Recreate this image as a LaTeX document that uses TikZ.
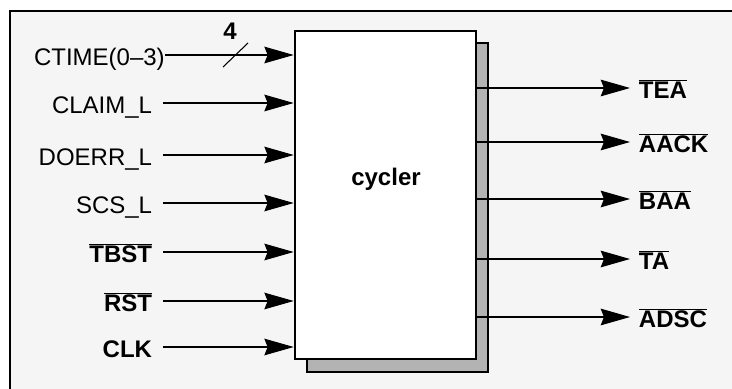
\documentclass[tikz,border=0pt]{standalone}
\usepackage{fontspec}
\setmainfont{Liberation Sans}
\usetikzlibrary{arrows.meta}
\definecolor{paper}{RGB}{245,245,245}
\definecolor{shade}{RGB}{179,179,179}
\newcommand{\pinfont}{\fontsize{18}{21.6}\selectfont}
\newcommand{\barsig}[1]{\ensuremath{\overline{\hbox{#1}}}}
\tikzset{
sig/.style={line width=0.8pt, -{Stealth[length=22pt,width=12.5pt,inset=2.5pt]}},
pinlbl/.style={text height=16pt, text depth=0pt, inner ysep=0pt, inner xsep=8pt},
inpin/.style={pinlbl, anchor=east, font=\pinfont},
inpinb/.style={pinlbl, anchor=east, font=\pinfont\bfseries},
outpin/.style={pinlbl, anchor=west, inner xsep=6.5pt, font=\pinfont\bfseries},
block/.style={draw, line width=2pt, fill=white, minimum width=135.75pt, minimum height=246pt, inner sep=0pt},
shadowbox/.style={draw, line width=2pt, fill=shade}
}
\begin{document}
\begin{tikzpicture}[x=0.75pt, y=-0.75pt]
  \useasboundingbox (0,0) rectangle (732,389);
  \fill[paper] (10,11) rectangle (732,389);
  \draw[line width=1.2pt] (10,389) -- (10,11) -- (732,11);
  \draw[shadowbox] (307,43) rectangle (488,372);
  \node[block] (box) at (385.5,195) {};
  \node[font=\pinfont\bfseries, inner sep=0pt] (name) at (386,179) {cycler};
  \node[inpin, inner xsep=0pt] (ctime) at (165,55) {CTIME(0–3)};
  \node[inpin] (claim) at (163,103) {CLAIM\_L};
  \node[inpin] (doerr) at (163,155) {DOERR\_L};
  \node[inpin] (scs) at (163,203) {SCS\_L};
  \node[inpinb] (tbst) at (163,252) {\barsig{TBST}};
  \node[inpinb] (rst) at (163,301) {\barsig{RST}};
  \node[inpinb] (clk) at (163,347) {CLK};
  \draw[sig] (ctime) -- (ctime -| box.west);
  \draw[sig] (claim) -- (claim -| box.west);
  \draw[sig] (doerr) -- (doerr -| box.west);
  \draw[sig] (scs) -- (scs -| box.west);
  \draw[sig] (tbst) -- (tbst -| box.west);
  \draw[sig] (rst) -- (rst -| box.west);
  \draw[sig] (clk) -- (clk -| box.west);
  \coordinate (bus) at (235.5,55);
  \draw[line width=0.8pt] ([shift={(-12.5,12)}]bus) -- ([shift={(12.5,-12)}]bus);
  \node[font=\pinfont\bfseries, inner sep=0pt] (buswidth) at (230,31) {4};
  \node[outpin] (tea) at (630,88) {\barsig{TEA}};
  \node[outpin] (aack) at (630,142) {\barsig{AACK}};
  \node[outpin] (baa) at (630,199) {\barsig{BAA}};
  \node[outpin] (ta) at (630,259) {\barsig{TA}};
  \node[outpin] (adsc) at (630,317) {\barsig{ADSC}};
  \draw[sig] (box.east |- tea) -- (tea);
  \draw[sig] (box.east |- aack) -- (aack);
  \draw[sig] (box.east |- baa) -- (baa);
  \draw[sig] (box.east |- ta) -- (ta);
  \draw[sig] (box.east |- adsc) -- (adsc);
\end{tikzpicture}
\end{document}
